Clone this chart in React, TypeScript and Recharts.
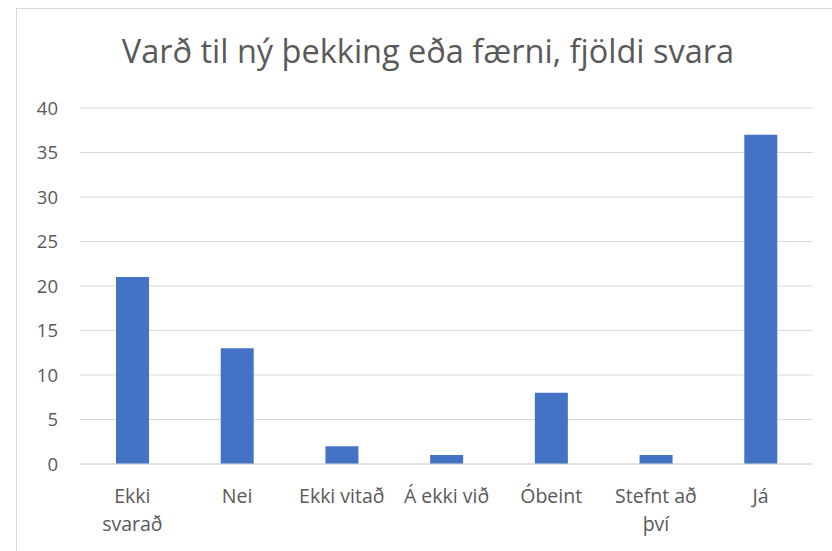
import React from "react";
import { BarChart, Bar, XAxis, YAxis, CartesianGrid } from "recharts";

const categories = ["Ekki svarað", "Nei", "Ekki vitað", "Á ekki við", "Óbeint", "Stefnt að því", "Já"];
const tickLines = [["Ekki", "svarað"], ["Nei"], ["Ekki vitað"], ["Á ekki við"], ["Óbeint"], ["Stefnt að", "því"], ["Já"]];
const counts = [21, 13, 2, 1, 8, 1, 37];
const yTicks = [0, 5, 10, 15, 20, 25, 30, 35, 40];

const data = categories.map((name, i) => ({ name, value: counts[i] }));

const FONT = "'Open Sans', sans-serif";
const TEXT = "#595959";

const CategoryTick = (props: any) => {
	const { x, y, payload } = props;
	const idx = categories.indexOf(payload.value);
	const lines = idx >= 0 ? tickLines[idx] : [payload.value];
	return (
		<text x={x} y={y + 39} textAnchor="middle" fill={TEXT} fontSize={19.5} fontFamily={FONT}>
			{lines.map((l, i) => (
				<tspan key={i} x={x} dy={i === 0 ? 0 : 28}>
					{l}
				</tspan>
			))}
		</text>
	);
};

const App = () => {
	return (
		<div style={{ position: "absolute", left: 0, top: 0, width: 832, height: 551, overflow: "hidden", background: "#fff" }}>
			<div style={{ position: "absolute", left: 16, top: 8, width: 840, height: 560, border: "1px solid #d9d9d9" }} />
			<div
				style={{
					position: "absolute",
					left: 0,
					width: 856,
					top: 31,
					textAlign: "center",
					fontFamily: FONT,
					fontSize: 32.5,
					color: TEXT,
					lineHeight: "40px",
				}}
			>
				Varð til ný þekking eða færni, fjöldi svara
			</div>
			<div style={{ position: "absolute", left: 0, top: 0 }}>
				<BarChart width={832} height={551} data={data} margin={{ top: 108, right: 19, bottom: 7, left: 0 }}>
					<CartesianGrid vertical={false} stroke="#d9d9d9" />
					<XAxis
						dataKey="name"
						height={80}
						interval={0}
						tickLine={false}
						tickSize={0}
						tickMargin={0}
						axisLine={{ stroke: "#d9d9d9" }}
						tick={<CategoryTick />}
					/>
					<YAxis
						width={80}
						domain={[0, 40]}
						ticks={yTicks}
						axisLine={false}
						tickLine={false}
						tickSize={0}
						tickMargin={22}
						tick={{ fill: TEXT, fontSize: 18.5, fontFamily: FONT }}
					/>
					<Bar dataKey="value" fill="#4472c4" barSize={33} isAnimationActive={false} />
				</BarChart>
			</div>
		</div>
	);
};

export default App;
